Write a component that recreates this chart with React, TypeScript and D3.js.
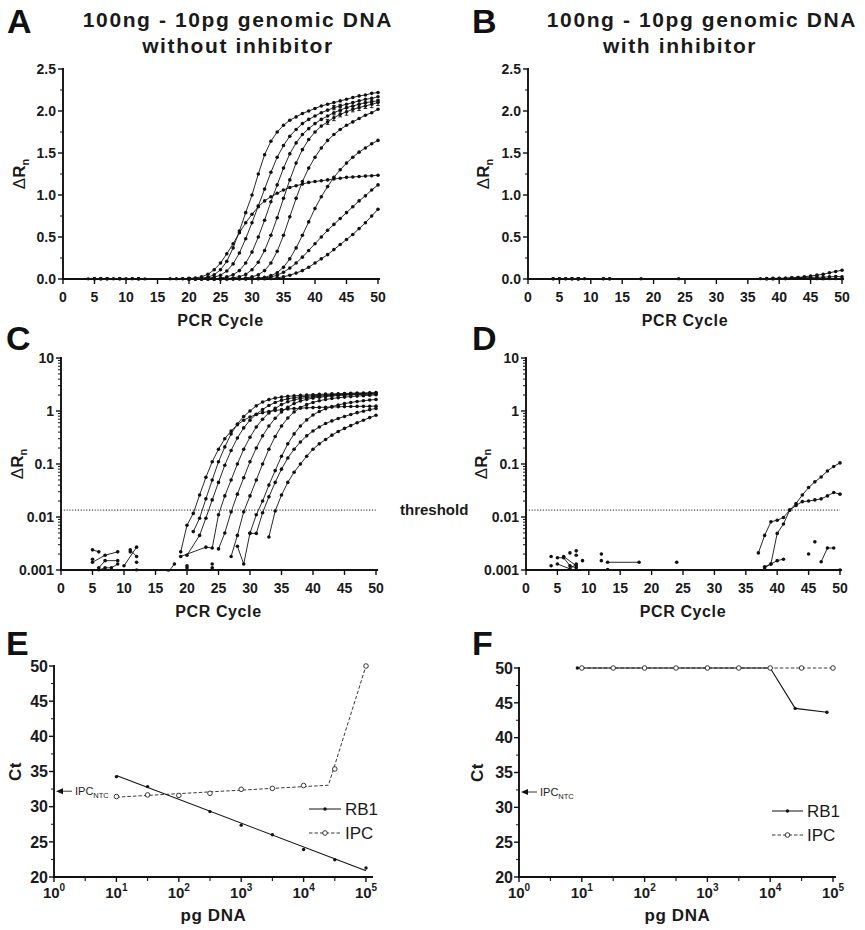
import React from 'react';
import * as d3 from 'd3';

type Pt = [number, number];
const FONT = "'Liberation Sans', Arial, Helvetica, sans-serif";

// ---------------- ticks ----------------
const cycleTicks = [0, 5, 10, 15, 20, 25, 30, 35, 40, 45, 50];
const linearTicks = [0, 0.5, 1, 1.5, 2, 2.5];
const linearTickLabels = ['0.0', '0.5', '1.0', '1.5', '2.0', '2.5'];
const logTicks = [0.001, 0.01, 0.1, 1, 10];
const logTickLabels = ['0.001', '0.01', '0.1', '1', '10'];
const ctTicks = [20, 25, 30, 35, 40, 45, 50];
const dnaDecades = [1, 10, 100, 1000, 10000, 100000];
const dnaExponents = ['0', '1', '2', '3', '4', '5'];

const THRESHOLD = 0.0135;
const IPC_NTC = 32.2;

// ---------------- panels A / C : amplification runs, no inhibitor (cycles 19..50) ----------------
const runStartCycle = 19;
const runFlat = [0.0022, 0.007, 0.0117, 0.026, 0.056, 0.11, 0.19, 0.30, 0.42, 0.55, 0.67, 0.77, 0.86, 0.93, 0.98, 1.02, 1.06, 1.09, 1.11, 1.13, 1.15, 1.16, 1.17, 1.18, 1.19, 1.20, 1.21, 1.215, 1.22, 1.225, 1.23, 1.235];
const run1 = [null, -0.001, 0.0053, 0.0095, 0.022, 0.05, 0.11, 0.21, 0.37, 0.57, 0.79, 1.0, 1.25, 1.48, 1.64, 1.75, 1.83, 1.89, 1.93, 1.97, 2.0, 2.03, 2.06, 2.08, 2.10, 2.12, 2.14, 2.16, 2.18, 2.19, 2.21, 2.22];
const run2 = [null, 0.0019, -0.001, 0.0045, 0.0095, 0.021, 0.045, 0.095, 0.18, 0.31, 0.48, 0.67, 0.87, 1.07, 1.27, 1.45, 1.59, 1.70, 1.78, 1.85, 1.90, 1.94, 1.98, 2.01, 2.04, 2.06, 2.08, 2.10, 2.12, 2.14, 2.15, 2.17];
const run3 = [0.0018, -0.001, -0.0005, -0.001, 0.0027, 0.0026, 0.011, 0.025, 0.05, 0.10, 0.19, 0.32, 0.50, 0.70, 0.92, 1.12, 1.32, 1.49, 1.62, 1.72, 1.79, 1.85, 1.90, 1.94, 1.98, 2.01, 2.04, 2.06, 2.08, 2.10, 2.11, 2.12];
const run4 = [null, -0.001, -0.001, -0.0008, -0.001, -0.001, 0.0025, 0.005, 0.0125, 0.027, 0.055, 0.11, 0.20, 0.34, 0.52, 0.73, 0.96, 1.18, 1.38, 1.54, 1.66, 1.75, 1.82, 1.87, 1.92, 1.96, 1.99, 2.02, 2.04, 2.06, 2.08, 2.10];
const run5 = [null, -0.001, -0.001, -0.001, -0.0008, -0.001, -0.001, -0.001, 0.0018, 0.0045, 0.0125, 0.025, 0.05, 0.10, 0.19, 0.33, 0.52, 0.74, 0.96, 1.16, 1.32, 1.45, 1.56, 1.65, 1.72, 1.78, 1.83, 1.87, 1.91, 1.95, 1.98, 2.02];
const run6 = [null, -0.001, -0.001, -0.001, -0.001, -0.0008, -0.001, -0.001, -0.001, 0.0028, 0.0013, 0.005, 0.011, 0.02, 0.04, 0.075, 0.14, 0.24, 0.37, 0.52, 0.68, 0.84, 0.98, 1.10, 1.21, 1.30, 1.38, 1.45, 1.51, 1.56, 1.61, 1.65];
const run7 = [null, -0.001, -0.001, -0.001, -0.001, -0.001, -0.001, -0.0008, -0.001, -0.001, -0.001, 0.0049, 0.0049, 0.012, 0.024, 0.045, 0.08, 0.13, 0.19, 0.26, 0.34, 0.42, 0.50, 0.58, 0.65, 0.72, 0.79, 0.86, 0.93, 0.99, 1.06, 1.12];
const run8 = [null, -0.001, -0.001, -0.001, -0.001, -0.001, -0.001, -0.001, -0.001, -0.0008, -0.001, -0.001, -0.001, -0.001, 0.0042, 0.013, 0.026, 0.045, 0.07, 0.10, 0.14, 0.19, 0.24, 0.29, 0.35, 0.41, 0.47, 0.53, 0.60, 0.67, 0.75, 0.83];
// error bars (cycle, sd)
const run4ErrCycles = [42, 43, 44, 45, 46, 47, 48, 49, 50];
const run4Err = [0.03, 0.035, 0.03, 0.04, 0.03, 0.035, 0.03, 0.04, 0.035];
const run2ErrCycles = [43, 44];
const run2Err = [0.025, 0.02];

// early background readings, no inhibitor
const noiseA1: Pt[] = [[4, -0.0008], [5, 0.0024], [6, 0.0022]];
const noiseA2: Pt[] = [[5, 0.0014], [7, 0.0019], [9, 0.0022]];
const noiseA3: Pt[] = [[6, 0.0011], [7, 0.0015], [9, 0.0015]];
const noiseA4: Pt[] = [[6, 0.001], [7, 0.0011], [8, 0.0011], [9, 0.0013]];
const noiseA5: Pt[] = [[10, 0.0012], [12, 0.0027]];
const noiseA6: Pt[] = [[11, 0.0024], [12, 0.0018], [13, -0.001]];
const noiseA7: Pt[] = [[17, 0.0009], [18, 0.0013]];
const noisePtsA: Pt[] = [[5, 0.0016], [11, 0.0022], [12, 0.0014], [12, 0.001], [20, 0.0012], [20, 0.0011], [24, 0.0013], [24, 0.0011]];

// ---------------- panels B / D : with inhibitor ----------------
const inhRunA: Pt[] = [[37, 0.0021], [38, 0.0045], [39, 0.0081], [40, 0.0087], [41, 0.0098], [42, 0.0135], [43, 0.0165], [44, 0.0195], [45, 0.020], [46, 0.021], [47, 0.022], [48, 0.025], [49, 0.029], [50, 0.027]];
const inhRunB: Pt[] = [[38, 0.00115], [39, 0.0013], [40, 0.0049], [41, 0.0074], [42, 0.0135], [43, 0.018], [44, 0.026], [45, 0.036], [46, 0.046], [47, 0.057], [48, 0.074], [49, 0.09], [50, 0.105]];
const inhRunC: Pt[] = [[38, 0.0011], [39, 0.0013], [40, 0.0015], [41, 0.0016]];
const inhRunD: Pt[] = [[47, 0.00143], [48, 0.0026], [49, 0.0026]];
const inhNoise1: Pt[] = [[5, 0.0017], [6, 0.0017], [7, 0.0012], [8, 0.0011]];
const inhNoise2: Pt[] = [[5, 0.0013], [7, 0.00105], [8, 0.0013]];
const inhNoise3: Pt[] = [[6, 0.0018], [8, 0.0012]];
const inhNoise4: Pt[] = [[13, 0.0014], [18, 0.0014]];
const inhPts: Pt[] = [[4, 0.0018], [4, 0.0012], [7, 0.0021], [8, 0.0023], [8, 0.0019], [9, 0.0015], [12, 0.002], [12, 0.0015], [13, 0.00102], [24, 0.0014], [45, 0.002], [46, 0.0034], [50, 0.001]];

// ---------------- panels E / F : Ct vs pg DNA ----------------
const pgDNA = [10, 31.6, 100, 316, 1000, 3162, 10000, 31623, 100000];
const rb1CtE = [34.27, 32.85, 31.53, 29.3, 27.37, 26.0, 23.9, 22.46, 21.28];
const ipcCtE = [31.44, 31.67, 31.6, 31.9, 32.47, 32.6, 33.0, 35.36, 50];
const ipcLinePgE = [10, 25000, 100000];
const ipcLineCtE = [31.35, 33.05, 50];
const rb1PgF = [8.5, 31.6, 100, 316, 1000, 3162, 10000, 25000, 80000];
const rb1CtF = [50, 50, 50, 50, 50, 50, 50, 44.2, 43.65];
const ipcCtF = [50, 50, 50, 50, 50, 50, 50, 50, 50];

function runPts(values: (number | null)[]): Pt[] {
  const out: Pt[] = [];
  values.forEach((v, i) => { if (v !== null) out.push([runStartCycle + i, v]); });
  return out;
}

const noInhLines: Pt[][] = [runFlat, run1, run2, run3, run4, run5, run6, run7, run8].map(runPts)
  .concat([noiseA1, noiseA2, noiseA3, noiseA4, noiseA5, noiseA6, noiseA7]);
const inhLines: Pt[][] = [inhRunA, inhRunB, inhRunC, inhRunD, inhNoise1, inhNoise2, inhNoise3, inhNoise4];

function errList(values: (number | null)[], cycles: number[], errs: number[]) {
  return cycles.map((c, i) => ({ c, v: values[c - runStartCycle] as number, e: errs[i] }));
}
const noInhErrs = errList(run4, run4ErrCycles, run4Err).concat(errList(run2, run2ErrCycles, run2Err));

const TICK = { fontFamily: FONT, fontWeight: 700, fontSize: 14, fill: '#1a1a1a' } as const;
const AXT = { fontFamily: FONT, fontWeight: 700, fontSize: 16, fill: '#1a1a1a', letterSpacing: 0.6 } as const;

function YLabelDR({ x, y }: { x: number; y: number }) {
  return (
    <text transform={`translate(${x},${y}) rotate(-90)`} textAnchor="middle" style={{ ...AXT, fontSize: 17, letterSpacing: 0 }}>
      <tspan fontWeight={400}>Δ</tspan>R<tspan fontSize={11} dy={4}>n</tspan>
    </text>
  );
}

function CyclePanel(p: {
  id: string; x0: number; x1: number; yTop: number; yBot: number; log: boolean;
  lines: Pt[][]; dots: Pt[]; errs?: { c: number; v: number; e: number }[]; threshold?: boolean; labelX: number;
}) {
  const x = d3.scaleLinear().domain([0, 50]).range([p.x0, p.x1]);
  const y: any = p.log
    ? d3.scaleLog().domain([0.001, 10]).range([p.yBot, p.yTop])
    : d3.scaleLinear().domain([0, 2.5]).range([p.yBot, p.yTop]);
  const keep = (d: Pt) => !p.log || d[1] > 0;
  const line = d3.line<Pt>().x(d => x(d[0])).y(d => y(d[1]));
  const majors = p.log ? logTicks : linearTicks;
  const labels = p.log ? logTickLabels : linearTickLabels;
  const minors: number[] = [];
  if (p.log) {
    [0.001, 0.01, 0.1, 1].forEach(d => { for (let k = 2; k <= 9; k++) minors.push(d * k); });
  } else {
    [0.25, 0.75, 1.25, 1.75, 2.25].forEach(v => minors.push(v));
  }
  const allDots: Pt[] = [];
  p.lines.forEach(l => l.filter(keep).forEach(d => allDots.push(d)));
  p.dots.filter(keep).forEach(d => allDots.push(d));
  return (
    <g>
      <defs>
        <clipPath id={p.id}>
          <rect x={p.x0 - 3} y={p.yTop - 4} width={p.x1 - p.x0 + 7} height={p.yBot - p.yTop + 5.5} />
        </clipPath>
      </defs>
      {p.threshold && (
        <line x1={p.x0} x2={p.x1} y1={y(THRESHOLD)} y2={y(THRESHOLD)} stroke="#222" strokeWidth={1} strokeDasharray="1.2 1.6" />
      )}
      <g clipPath={`url(#${p.id})`}>
        {p.lines.map((l, i) => {
          const pts = l.filter(keep);
          return pts.length > 1 ? <path key={i} d={line(pts) as string} fill="none" stroke="#111" strokeWidth={0.9} /> : null;
        })}
        {allDots.map((d, i) => <circle key={i} cx={x(d[0])} cy={y(d[1])} r={1.8} fill="#111" />)}
        {(p.errs || []).map((e, i) => (
          <g key={i} stroke="#111" strokeWidth={0.9}>
            <line x1={x(e.c)} x2={x(e.c)} y1={y(e.v - e.e)} y2={y(e.v + e.e)} />
            <line x1={x(e.c) - 1.8} x2={x(e.c) + 1.8} y1={y(e.v - e.e)} y2={y(e.v - e.e)} />
            <line x1={x(e.c) - 1.8} x2={x(e.c) + 1.8} y1={y(e.v + e.e)} y2={y(e.v + e.e)} />
          </g>
        ))}
      </g>
      {/* axes */}
      <line x1={p.x0} x2={p.x0} y1={p.yTop - 1} y2={p.yBot + 1} stroke="#111" strokeWidth={1.9} />
      <line x1={p.x0 - 1} x2={p.x1 + 2} y1={p.yBot} y2={p.yBot} stroke="#111" strokeWidth={1.9} />
      {majors.map((v, i) => (
        <g key={'ym' + i}>
          <line x1={p.x0 - 5} x2={p.x0} y1={y(v)} y2={y(v)} stroke="#111" strokeWidth={1.4} />
          <text x={p.x0 - 7} y={y(v)} dy="0.36em" textAnchor="end" style={TICK}>{labels[i]}</text>
        </g>
      ))}
      {minors.map((v, i) => (
        <line key={'yn' + i} x1={p.x0 - 3} x2={p.x0} y1={y(v)} y2={y(v)} stroke="#111" strokeWidth={1} />
      ))}
      {cycleTicks.map(c => (
        <g key={'x' + c}>
          <line x1={x(c)} x2={x(c)} y1={p.yBot} y2={p.yBot + 5} stroke="#111" strokeWidth={1.4} />
          <text x={x(c)} y={p.yBot + 23} textAnchor="middle" style={TICK}>{c}</text>
        </g>
      ))}
      <text x={(p.x0 + p.x1) / 2} y={p.yBot + 47} textAnchor="middle" style={AXT}>PCR Cycle</text>
      <YLabelDR x={p.labelX} y={(p.yTop + p.yBot) / 2} />
    </g>
  );
}

function CtPanel(p: {
  x0: number; x5: number; xEnd: number; yTop: number; yBot: number; labelX: number;
  variant: 'E' | 'F';
}) {
  const x = d3.scaleLog().domain([1, 100000]).range([p.x0, p.x5]);
  const y = d3.scaleLinear().domain([20, 50]).range([p.yBot, p.yTop]);
  const line = d3.line<Pt>().x(d => x(d[0])).y(d => y(d[1]));
  const halfDecades = [1, 10, 100, 1000, 10000].map(d => d * Math.sqrt(10));
  const minorsY = [22.5, 27.5, 32.5, 37.5, 42.5, 47.5];

  let rb1Line: Pt[] = [];
  let ipcLine: Pt[] = [];
  let rb1Pts: Pt[] = [];
  let ipcPts: Pt[] = [];
  if (p.variant === 'E') {
    // least-squares line of Ct on log10(pg)
    const lx = pgDNA.map(v => Math.log10(v));
    const mx = d3.mean(lx) as number;
    const my = d3.mean(rb1CtE) as number;
    const slope = d3.sum(lx.map((v, i) => (v - mx) * (rb1CtE[i] - my))) / d3.sum(lx.map(v => (v - mx) ** 2));
    rb1Line = [pgDNA[0], pgDNA[pgDNA.length - 1]].map(v => [v, my + slope * (Math.log10(v) - mx)] as Pt);
    ipcLine = ipcLinePgE.map((v, i) => [v, ipcLineCtE[i]] as Pt);
    rb1Pts = pgDNA.map((v, i) => [v, rb1CtE[i]] as Pt);
    ipcPts = pgDNA.map((v, i) => [v, ipcCtE[i]] as Pt);
  } else {
    rb1Pts = rb1PgF.map((v, i) => [v, rb1CtF[i]] as Pt);
    ipcPts = pgDNA.map((v, i) => [v, ipcCtF[i]] as Pt);
    rb1Line = rb1Pts;
    ipcLine = ipcPts;
  }
  const ly1 = p.variant === 'E' ? 809 : 811;
  const ly2 = p.variant === 'E' ? 833 : 835;
  const lx0 = p.variant === 'E' ? 309 : 772;
  const lx1 = p.variant === 'E' ? 341 : 803;
  return (
    <g>
      <path d={line(ipcLine) as string} fill="none" stroke="#222" strokeWidth={0.9} strokeDasharray="3.5 2" />
      <path d={line(rb1Line) as string} fill="none" stroke="#111" strokeWidth={1.1} />
      {rb1Pts.map((d, i) => <circle key={'r' + i} cx={x(d[0])} cy={y(d[1])} r={1.7} fill="#111" />)}
      {ipcPts.map((d, i) => <circle key={'i' + i} cx={x(d[0])} cy={y(d[1])} r={2.3} fill="white" stroke="#222" strokeWidth={0.9} />)}
      {/* axes */}
      <line x1={p.x0} x2={p.x0} y1={p.yTop - 1} y2={p.yBot + 1} stroke="#111" strokeWidth={1.9} />
      <line x1={p.x0 - 1} x2={p.xEnd} y1={p.yBot} y2={p.yBot} stroke="#111" strokeWidth={1.9} />
      {ctTicks.map(v => (
        <g key={'y' + v}>
          <line x1={p.x0 - 5} x2={p.x0} y1={y(v)} y2={y(v)} stroke="#111" strokeWidth={1.4} />
          <text x={p.x0 - 6} y={y(v)} dy="0.36em" textAnchor="end" style={{ ...TICK, fontSize: 16 }}>{v}</text>
        </g>
      ))}
      {minorsY.map(v => <line key={'yn' + v} x1={p.x0 - 3} x2={p.x0} y1={y(v)} y2={y(v)} stroke="#111" strokeWidth={1} />)}
      {dnaDecades.map((d, i) => (
        <g key={'x' + d}>
          <line x1={x(d)} x2={x(d)} y1={p.yBot} y2={p.yBot + 5} stroke="#111" strokeWidth={1.4} />
          <text x={x(d)} y={p.yBot + 21} textAnchor="middle" style={{ ...TICK, fontSize: 15 }}>
            10<tspan fontSize={10} dy={-7}>{dnaExponents[i]}</tspan>
          </text>
        </g>
      ))}
      {halfDecades.map((d, i) => <line key={'xh' + i} x1={x(d)} x2={x(d)} y1={p.yBot} y2={p.yBot + 4} stroke="#111" strokeWidth={1.1} />)}
      <text x={(p.x0 + p.xEnd) / 2} y={p.yBot + 44} textAnchor="middle" style={{ ...AXT, fontSize: 17 }}>pg DNA</text>
      <text transform={`translate(${p.labelX},${(p.yTop + p.yBot) / 2}) rotate(-90)`} textAnchor="middle" style={{ ...AXT, fontSize: 17 }}>Ct</text>
      {/* IPC NTC arrow */}
      <line x1={p.x0 + 8} x2={p.x0 + 18} y1={y(IPC_NTC)} y2={y(IPC_NTC)} stroke="#222" strokeWidth={0.9} />
      <path d={`M${p.x0 + 2},${y(IPC_NTC)} L${p.x0 + 9},${y(IPC_NTC) - 3} L${p.x0 + 9},${y(IPC_NTC) + 3} Z`} fill="#111" />
      <text x={p.x0 + 21} y={y(IPC_NTC) + 4} style={{ fontFamily: FONT, fontSize: 11, fill: '#222' }}>
        IPC<tspan fontSize={7.5} dy={3}>NTC</tspan>
      </text>
      {/* legend */}
      <line x1={lx0} x2={lx1} y1={ly1} y2={ly1} stroke="#111" strokeWidth={1} />
      <circle cx={(lx0 + lx1) / 2} cy={ly1} r={1.7} fill="#111" />
      <text x={lx1 + 4} y={ly1 + 6} style={{ fontFamily: FONT, fontSize: 17, fill: '#1a1a1a' }}>RB1</text>
      <line x1={lx0} x2={lx1} y1={ly2} y2={ly2} stroke="#222" strokeWidth={0.9} strokeDasharray="3.5 2" />
      <circle cx={(lx0 + lx1) / 2} cy={ly2} r={2.3} fill="white" stroke="#222" strokeWidth={0.9} />
      <text x={lx1 + 4} y={ly2 + 6} style={{ fontFamily: FONT, fontSize: 17, fill: '#1a1a1a' }}>IPC</text>
    </g>
  );
}

const LETTER = { fontFamily: FONT, fontWeight: 700, fontSize: 34, fill: '#111' } as const;
const TITLE = { fontFamily: FONT, fontWeight: 700, fontSize: 21, fill: '#1a1a1a', letterSpacing: 1.6 } as const;

export default function App() {
  return (
    <svg width={865} height={930} viewBox="0 0 865 930" style={{ position: 'absolute', left: 0, top: 0, background: '#fff' }}>
      <rect x={0} y={0} width={865} height={930} fill="#fff" />
      {/* titles */}
      <text x={238} y={27} textAnchor="middle" style={TITLE}>100ng - 10pg genomic DNA</text>
      <text x={238} y={53} textAnchor="middle" style={TITLE}>without inhibitor</text>
      <text x={702} y={27} textAnchor="middle" style={TITLE}>100ng - 10pg genomic DNA</text>
      <text x={680} y={53} textAnchor="middle" style={TITLE}>with inhibitor</text>
      {/* panel letters */}
      <text x={7} y={33} style={LETTER}>A</text>
      <text x={472} y={33} style={LETTER}>B</text>
      <text x={6} y={350} style={LETTER}>C</text>
      <text x={472} y={350} style={LETTER}>D</text>
      <text x={6} y={655} style={LETTER}>E</text>
      <text x={472} y={655} style={LETTER}>F</text>

      <CyclePanel id="clipA" x0={63} x1={378} yTop={69} yBot={279} log={false} lines={noInhLines} dots={noisePtsA} errs={noInhErrs} labelX={25} />
      <CyclePanel id="clipB" x0={528} x1={842} yTop={69} yBot={279} log={false} lines={inhLines} dots={inhPts} labelX={489} />
      <CyclePanel id="clipC" x0={61} x1={376} yTop={358} yBot={570} log={true} lines={noInhLines} dots={noisePtsA} threshold labelX={23} />
      <CyclePanel id="clipD" x0={526} x1={840} yTop={358} yBot={570} log={true} lines={inhLines} dots={inhPts} threshold labelX={487} />
      <text x={400} y={515} style={{ fontFamily: FONT, fontWeight: 700, fontSize: 15, fill: '#1a1a1a' }}>threshold</text>

      <CtPanel variant="E" x0={54} x5={366} xEnd={373} yTop={666} yBot={877} labelX={21} />
      <CtPanel variant="F" x0={519} x5={833} xEnd={836} yTop={668} yBot={877} labelX={483} />
    </svg>
  );
}
